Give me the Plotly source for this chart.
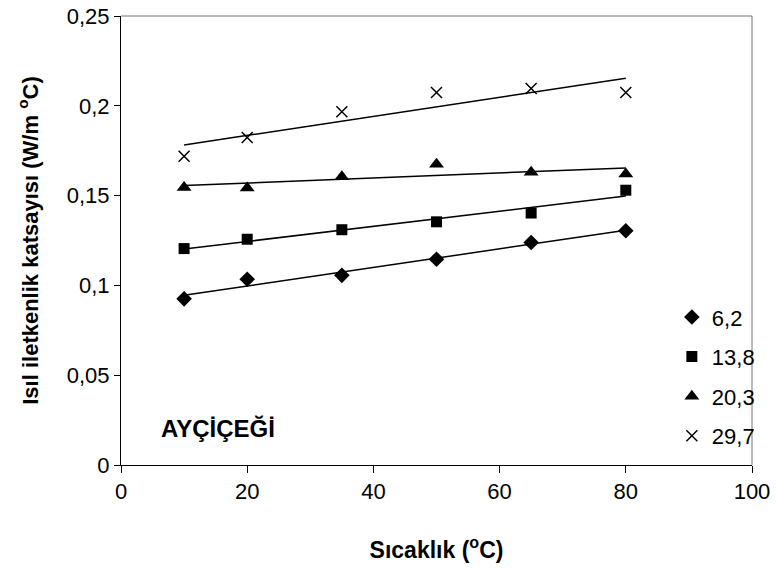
import numpy as np
import plotly.graph_objects as go

temps = [10, 20, 35, 50, 65, 80]
series_names = ["6,2", "13,8", "20,3", "29,7"]
k_62 = [0.0925, 0.1034, 0.1056, 0.1146, 0.1239, 0.1304]
k_138 = [0.1205, 0.1257, 0.131, 0.1354, 0.1403, 0.1530]
k_203 = [0.1545, 0.1542, 0.1605, 0.1675, 0.1630, 0.1620]
k_297 = [0.1719, 0.1824, 0.1967, 0.2074, 0.2096, 0.2074]
y_tickvals = [0, 0.05, 0.1, 0.15, 0.2, 0.25]
y_ticktext = ["0", "0,05", "0,1", "0,15", "0,2", "0,25"]
x_tickvals = [0, 20, 40, 60, 80, 100]

series = [k_62, k_138, k_203, k_297]
symbols = ["diamond", "square", "triangle-up", "x-thin-open"]
sizes = [12, 11, 13, 11]

FONT = "Liberation Sans, Arial, sans-serif"
fig = go.Figure()
for i, (name, vals) in enumerate(zip(series_names, series)):
    m, b = np.polyfit(temps, vals, 1)
    xs = np.array([temps[0], temps[-1]])
    fig.add_trace(go.Scatter(x=xs, y=m * xs + b, mode="lines",
                             line=dict(color="black", width=1.5),
                             showlegend=False, hoverinfo="skip"))
for i, (name, vals) in enumerate(zip(series_names, series)):
    mk = dict(symbol=symbols[i], size=sizes[i], color="black")
    if symbols[i] == "x-thin-open":
        mk["line"] = dict(color="black", width=1.5)
    fig.add_trace(go.Scatter(x=temps, y=vals, mode="markers", name=name,
                             marker=mk, legendgroup=name))

fig.update_layout(
    width=776, height=568,
    margin=dict(l=121, r=24, t=16, b=103),
    paper_bgcolor="white", plot_bgcolor="white",
    separators=",.",
    font=dict(family=FONT, size=22, color="black"),
    legend=dict(x=0.873, y=0.376, xanchor="left", yanchor="top",
                bgcolor="rgba(0,0,0,0)", tracegroupgap=8,
                font=dict(size=22), itemwidth=30),
    xaxis=dict(range=[0, 100], tickvals=x_tickvals, ticks="outside",
               ticklen=7, tickcolor="black", showline=True, linecolor="black",
               linewidth=1, showgrid=False, zeroline=False, automargin=False,
               tickfont=dict(size=22),
               title=dict(text="<b>Sıcaklık (<sup>o</sup>C)</b>", font=dict(size=23), standoff=38)),
    yaxis=dict(range=[0, 0.25], tickvals=y_tickvals, ticktext=y_ticktext,
               ticks="outside", ticklen=6, tickcolor="black", showline=True,
               linecolor="black", linewidth=1, showgrid=False, zeroline=False,
               automargin=False, tickfont=dict(size=22),
               title=dict(text="<b>Isıl iletkenlik katsayısı (W/m <sup>o</sup>C)</b>",
                          font=dict(size=22), standoff=22)),
)
fig.add_shape(type="line", xref="paper", yref="paper", x0=0, x1=1, y0=1, y1=1,
              line=dict(color="#777777", width=1))
fig.add_shape(type="line", xref="paper", yref="paper", x0=1, x1=1, y0=0, y1=1,
              line=dict(color="#777777", width=1))
fig.add_annotation(text="<b>AYÇİÇEĞİ</b>", x=6, y=0.0206, xref="x", yref="y",
                   xanchor="left", yanchor="middle", showarrow=False,
                   font=dict(size=24))
fig.write_html("out.html")
